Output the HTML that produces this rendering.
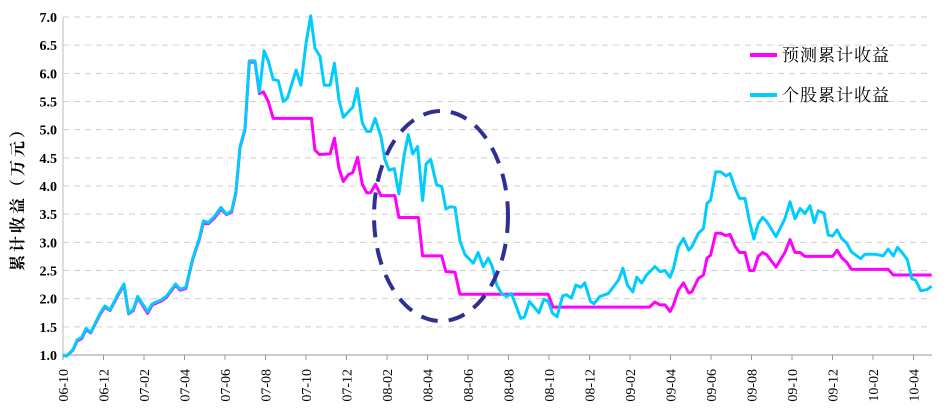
<!DOCTYPE html>
<html><head><meta charset="utf-8">
<style>
html,body{margin:0;padding:0;background:#fff;width:948px;height:417px;overflow:hidden}
svg{display:block}
</style></head>
<body>
<svg id="chart" width="948" height="417" viewBox="0 0 948 417" xmlns="http://www.w3.org/2000/svg">
<g id="grid"></g>
<g id="axes"></g>
<g id="series"></g>
<ellipse cx="441" cy="216" rx="67" ry="105" fill="none" stroke="#2E3192" stroke-width="4" stroke-dasharray="17 11"/>
<text x="0" y="0" transform="translate(23,195) rotate(-90)" text-anchor="middle" font-family="'Liberation Serif','Noto Serif CJK SC',serif" font-size="16" font-weight="bold" fill="#000" letter-spacing="3">累计收益（万元）</text>
<g>
<g>
<line x1="750" y1="55" x2="777" y2="55" stroke="#FF00FF" stroke-width="4"/>
<text x="782" y="61" font-family="'Liberation Serif','Noto Serif CJK SC',serif" font-size="17" letter-spacing="1" fill="#000">预测累计收益</text>
</g>
<g>
<line x1="750" y1="95" x2="777" y2="95" stroke="#00CCFF" stroke-width="4"/>
<text x="782" y="101" font-family="'Liberation Serif','Noto Serif CJK SC',serif" font-size="17" letter-spacing="1" fill="#000">个股累计收益</text>
</g>
</g>
</svg>
<script>
const xLabels=["06-10","06-12","07-02","07-04","07-06","07-08","07-10","07-12","08-02","08-04","08-06","08-08","08-10","08-12","09-02","09-04","09-06","09-08","09-10","09-12","10-02","10-04"];
const yTicks=[1.0,1.5,2.0,2.5,3.0,3.5,4.0,4.5,5.0,5.5,6.0,6.5,7.0];
const stockMonths=[0,0.18,0.5,0.7,0.92,1.14,1.37,1.83,2.07,2.32,2.73,3.01,3.24,3.47,3.69,4.18,4.41,4.87,5.12,5.56,5.78,6.07,6.4,6.73,6.93,7.18,7.5,7.8,8.08,8.33,8.54,8.74,8.99,9.2,9.48,9.7,9.93,10.14,10.38,10.63,10.88,11.08,11.51,11.75,12.0,12.23,12.44,12.69,12.9,13.19,13.4,13.63,13.84,14.31,14.53,14.78,15.0,15.19,15.41,15.7,15.9,16.11,16.36,16.59,16.84,17.05,17.27,17.51,17.76,17.93,18.16,18.45,18.7,18.91,19.11,19.36,19.6,19.85,20.26,20.5,20.75,21.0,21.2,21.42,21.66,21.91,22.15,22.6,22.8,23.03,23.5,23.75,23.96,24.18,24.4,24.67,24.86,25.1,25.33,25.57,25.77,26.05,26.22,26.52,26.93,27.43,27.65,27.87,28.14,28.33,28.58,28.82,29.23,29.48,29.73,29.98,30.15,30.39,30.64,30.9,31.05,31.38,31.63,31.8,31.98,32.23,32.48,32.74,32.94,33.19,33.4,33.68,33.9,34.12,34.33,34.55,34.75,35.21,35.65,35.9,36.15,36.4,36.64,36.89,37.1,37.3,37.58,37.79,38.0,38.23,38.45,38.69,38.94,39.39,39.6,40.1,40.5,40.75,41.0,41.21,41.5,41.7,41.91,42.12,42.36,42.65,42.9];
const stockValues=[1.0,0.98,1.10,1.27,1.31,1.47,1.40,1.74,1.87,1.80,2.09,2.26,1.74,1.81,2.04,1.77,1.91,1.98,2.05,2.26,2.17,2.20,2.71,3.07,3.38,3.35,3.47,3.62,3.50,3.56,3.90,4.70,5.02,6.22,6.22,5.67,6.40,6.22,5.89,5.87,5.50,5.56,6.06,5.79,6.53,7.02,6.45,6.30,5.79,5.79,6.18,5.53,5.22,5.40,5.73,5.12,4.97,4.97,5.20,4.88,4.46,4.28,4.31,3.86,4.53,4.91,4.57,4.70,3.74,4.39,4.47,4.02,3.99,3.59,3.63,3.62,3.03,2.78,2.63,2.82,2.57,2.72,2.57,2.24,2.09,2.04,2.09,1.65,1.68,1.95,1.75,1.99,1.95,1.74,1.68,2.05,2.07,2.01,2.24,2.20,2.28,1.95,1.91,2.04,2.09,2.33,2.54,2.24,2.12,2.38,2.28,2.42,2.57,2.48,2.50,2.38,2.54,2.92,3.07,2.86,2.92,3.16,3.25,3.69,3.75,4.25,4.25,4.18,4.22,3.96,3.78,3.78,3.37,3.06,3.33,3.44,3.37,3.10,3.42,3.72,3.42,3.60,3.51,3.65,3.35,3.56,3.52,3.13,3.11,3.22,3.07,2.99,2.83,2.71,2.79,2.79,2.76,2.88,2.76,2.91,2.79,2.69,2.36,2.32,2.14,2.16,2.22];
const predMonths=[0,0.18,0.5,0.7,0.92,1.14,1.37,1.83,2.07,2.32,2.73,3.01,3.24,3.47,3.69,4.18,4.41,4.87,5.12,5.56,5.78,6.07,6.4,6.73,6.93,7.18,7.5,7.8,8.08,8.33,8.54,8.74,8.99,9.2,9.48,9.7,9.9,10.14,10.38,12.27,12.44,12.66,13.19,13.4,13.63,13.84,14.09,14.31,14.55,14.78,15.0,15.19,15.43,15.7,16.39,16.59,17.55,17.76,18.7,18.91,19.36,19.6,23.96,24.2,28.97,29.23,29.48,29.73,29.98,30.15,30.39,30.64,30.9,31.05,31.38,31.63,31.8,31.98,32.23,32.48,32.74,32.94,33.19,33.4,33.68,33.9,34.12,34.33,34.55,34.75,35.21,35.65,35.9,36.15,36.4,36.64,38.0,38.23,38.45,38.69,38.94,40.75,41.0,42.9];
const predValues=[1.0,0.98,1.09,1.25,1.29,1.45,1.39,1.72,1.85,1.79,2.07,2.24,1.73,1.79,2.02,1.74,1.89,1.96,2.03,2.24,2.15,2.18,2.69,3.05,3.34,3.33,3.44,3.59,3.49,3.54,3.88,4.68,5.0,6.2,6.2,5.64,5.67,5.50,5.20,5.20,4.64,4.56,4.57,4.85,4.31,4.08,4.20,4.24,4.51,4.03,3.88,3.88,4.03,3.83,3.83,3.44,3.44,2.76,2.76,2.48,2.47,2.08,2.08,1.85,1.85,1.94,1.89,1.89,1.77,1.89,2.15,2.28,2.10,2.12,2.36,2.42,2.72,2.77,3.16,3.16,3.12,3.14,2.93,2.82,2.82,2.50,2.50,2.75,2.82,2.78,2.56,2.82,3.05,2.82,2.82,2.75,2.75,2.86,2.73,2.65,2.52,2.52,2.42,2.42];

const X0=63,XR=932,Y1=355,Y7=17,PXM=20.25;
function xScale(m){return X0+m*PXM;}
function yScale(v){return Y1-(v-1)*(Y1-Y7)/6;}
const NS="http://www.w3.org/2000/svg";
function mk(tag,attrs,parent){const e=document.createElementNS(NS,tag);for(const k in attrs)e.setAttribute(k,attrs[k]);parent.appendChild(e);return e;}
const grid=document.getElementById('grid'),axes=document.getElementById('axes'),series=document.getElementById('series');

yTicks.forEach(v=>{
  const y=yScale(v);
  if(v>1){const gl=mk('line',{x1:X0,x2:XR,y1:y,y2:y,stroke:'#cfcfcf','stroke-width':1,'stroke-dasharray':'6 5'},grid);
  
  }
  const t=mk('text',{x:57,y:y+5,'text-anchor':'end','font-family':"'Liberation Serif',serif",'font-size':14,'font-weight':'bold',fill:'#000'},axes);
  t.textContent=v.toFixed(1);
  
  
});
const yax=mk('line',{x1:X0,x2:X0,y1:Y7,y2:Y1,stroke:'#bbbbbb','stroke-width':1},axes);


const xax=mk('line',{x1:X0,x2:XR,y1:Y1,y2:Y1,stroke:'#999999','stroke-width':1},axes);


xLabels.forEach((lab,i)=>{
  const x=xScale(i*2);
  const tk=mk('line',{x1:x,x2:x,y1:Y1,y2:Y1+5,stroke:'#999999','stroke-width':1},axes);
  
  
  const t=mk('text',{x:0,y:0,transform:`translate(${x+5},369) rotate(-90)`,'text-anchor':'end','font-family':"'Liberation Serif',serif",'font-size':14,fill:'#000'},axes);
  t.textContent=lab;
  
  
});
function path(ms,vs){return ms.map((m,i)=>(i?'L':'M')+xScale(m).toFixed(1)+' '+yScale(vs[i]).toFixed(1)).join(' ');}
const pp=mk('path',{d:path(predMonths,predValues),fill:'none',stroke:'#FF00FF','stroke-width':3,'stroke-linejoin':'round'},series);


const sp=mk('path',{d:path(stockMonths,stockValues),fill:'none',stroke:'#00CCFF','stroke-width':3,'stroke-linejoin':'round'},series);


</script>
</body></html>
